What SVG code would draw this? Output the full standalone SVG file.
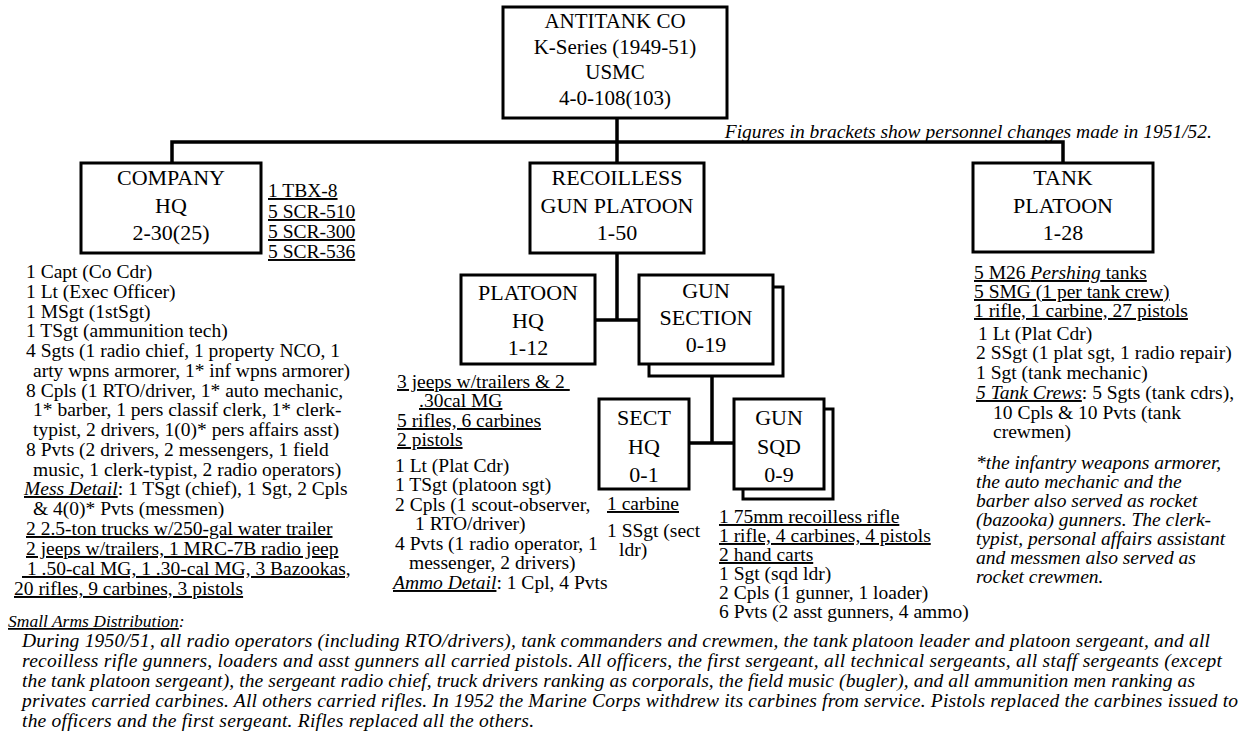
<svg xmlns="http://www.w3.org/2000/svg" width="1249" height="732" viewBox="0 0 1249 732" font-family="'Liberation Serif', 'Times New Roman', serif">
<style>
.box{fill:#fff;stroke:#000;stroke-width:3}
.ln{fill:none;stroke:#000;stroke-width:3.5;stroke-linecap:square}
text{font-family:"Liberation Serif","Times New Roman",serif;fill:#000}
.bt{font-size:22px;text-anchor:middle}
.tt{font-size:21px;text-anchor:middle}
.t{font-size:19.5px}
.p{font-size:19.5px;font-style:italic}
.u{text-decoration:underline}
.i{font-style:italic}
</style>
<rect width="1249" height="732" fill="#fff"/>
<g id="connectors">
<path class="ln" d="M617,118V142M172,142H1063M172,142V163M617,142V163M1063,142V163M617,253V320M595,320H639M712,376V443M689,443H734"/>
</g>
<g id="antitank-co">
<rect class="box" x="503" y="7" width="224" height="111"/>
<text class="tt" x="615" y="28">ANTITANK CO</text>
<text class="tt" x="615" y="53.5">K-Series (1949-51)</text>
<text class="tt" x="615" y="79">USMC</text>
<text class="tt" x="615" y="104.5">4-0-108(103)</text>
</g>
<text class="t i" x="1212" y="138" text-anchor="end">Figures in brackets show personnel changes made in 1951/52.</text>
<g id="company-hq">
<rect class="box" x="81" y="163" width="180" height="90"/>
<text class="bt" x="171" y="185">COMPANY</text>
<text class="bt" x="171" y="213">HQ</text>
<text class="bt" x="171" y="240">2-30(25)</text>
</g>
<g id="company-hq-radios" class="t u">
<text x="268" y="197">1 TBX-8</text>
<text x="268" y="218">5 SCR-510</text>
<text x="268" y="238">5 SCR-300</text>
<text x="268" y="258">5 SCR-536</text>
</g>
<g id="company-hq-list" class="t">
<text x="26" y="278">1 Capt (Co Cdr)</text>
<text x="26" y="298">1 Lt (Exec Officer)</text>
<text x="26" y="318">1 MSgt (1stSgt)</text>
<text x="26" y="337">1 TSgt (ammunition tech)</text>
<text x="26" y="357">4 Sgts (1 radio chief, 1 property NCO, 1</text>
<text x="33" y="377">arty wpns armorer, 1* inf wpns armorer)</text>
<text x="26" y="397">8 Cpls (1 RTO/driver, 1* auto mechanic,</text>
<text x="33" y="416">1* barber, 1 pers classif clerk, 1* clerk-</text>
<text x="33" y="436">typist, 2 drivers, 1(0)* pers affairs asst)</text>
<text x="26" y="456">8 Pvts (2 drivers, 2 messengers, 1 field</text>
<text x="33" y="476">music, 1 clerk-typist, 2 radio operators)</text>
<text x="24" y="495"><tspan class="i u">Mess Detail</tspan>: 1 TSgt (chief), 1 Sgt, 2 Cpls</text>
<text x="33" y="515">&amp; 4(0)* Pvts (messmen)</text>
<text class="u" x="26" y="535">2 2.5-ton trucks w/250-gal water trailer</text>
<text class="u" x="26" y="555">2 jeeps w/trailers, 1 MRC-7B radio jeep</text>
<text class="u" x="22" y="575" xml:space="preserve"> 1 .50-cal MG, 1 .30-cal MG, 3 Bazookas,</text>
<text class="u" x="14" y="595">20 rifles, 9 carbines, 3 pistols</text>
</g>
<g id="recoilless-gun-platoon">
<rect class="box" x="530" y="163" width="174" height="90"/>
<text class="bt" x="617" y="185">RECOILLESS</text>
<text class="bt" x="617" y="213">GUN PLATOON</text>
<text class="bt" x="617" y="240">1-50</text>
</g>
<g id="platoon-hq">
<rect class="box" x="461" y="275" width="134" height="89"/>
<text class="bt" x="528" y="300">PLATOON</text>
<text class="bt" x="528" y="328">HQ</text>
<text class="bt" x="528" y="355">1-12</text>
</g>
<g id="platoon-hq-list" class="t">
<text class="u" x="397" y="388" xml:space="preserve">3 jeeps w/trailers &amp; 2 </text>
<text class="u" x="419" y="407">.30cal MG</text>
<text class="u" x="397" y="427">5 rifles, 6 carbines</text>
<text class="u" x="397" y="446">2 pistols</text>
<text x="395" y="472">1 Lt (Plat Cdr)</text>
<text x="395" y="491">1 TSgt (platoon sgt)</text>
<text x="395" y="511">2 Cpls (1 scout-observer,</text>
<text x="415" y="530">1 RTO/driver)</text>
<text x="395" y="550">4 Pvts (1 radio operator, 1</text>
<text x="409" y="569">messenger, 2 drivers)</text>
<text x="393" y="589"><tspan class="i u">Ammo Detail</tspan>: 1 Cpl, 4 Pvts</text>
</g>
<g id="gun-section">
<rect class="box" x="649" y="287" width="134" height="89"/>
<rect class="box" x="639" y="275" width="134" height="89"/>
<text class="bt" x="706" y="298">GUN</text>
<text class="bt" x="706" y="325">SECTION</text>
<text class="bt" x="706" y="352">0-19</text>
</g>
<g id="sect-hq">
<rect class="box" x="599" y="399" width="90" height="90"/>
<text class="bt" x="644" y="425">SECT</text>
<text class="bt" x="644" y="454">HQ</text>
<text class="bt" x="644" y="482">0-1</text>
</g>
<g id="sect-hq-list" class="t">
<text class="u" x="607" y="510">1 carbine</text>
<text x="607" y="537">1 SSgt (sect</text>
<text x="619" y="556">ldr)</text>
</g>
<g id="gun-sqd">
<rect class="box" x="743" y="409" width="90" height="90"/>
<rect class="box" x="734" y="399" width="90" height="90"/>
<text class="bt" x="779" y="425">GUN</text>
<text class="bt" x="779" y="454">SQD</text>
<text class="bt" x="779" y="482">0-9</text>
</g>
<g id="gun-sqd-list" class="t">
<text class="u" x="719" y="523">1 75mm recoilless rifle</text>
<text class="u" x="719" y="542">1 rifle, 4 carbines, 4 pistols</text>
<text class="u" x="719" y="561">2 hand carts</text>
<text x="719" y="580">1 Sgt (sqd ldr)</text>
<text x="719" y="599">2 Cpls (1 gunner, 1 loader)</text>
<text x="719" y="618">6 Pvts (2 asst gunners, 4 ammo)</text>
</g>
<g id="tank-platoon">
<rect class="box" x="973" y="163" width="180" height="89"/>
<text class="bt" x="1063" y="185">TANK</text>
<text class="bt" x="1063" y="213">PLATOON</text>
<text class="bt" x="1063" y="240">1-28</text>
</g>
<g id="tank-platoon-list" class="t">
<text class="u" x="974" y="279">5 M26 <tspan class="i">Pershing</tspan> tanks</text>
<text class="u" x="974" y="298">5 SMG (1 per tank crew)</text>
<text class="u" x="974" y="317">1 rifle, 1 carbine, 27 pistols</text>
<text x="978" y="340">1 Lt (Plat Cdr)</text>
<text x="976" y="359">2 SSgt (1 plat sgt, 1 radio repair)</text>
<text x="976" y="379">1 Sgt (tank mechanic)</text>
<text x="976" y="399"><tspan class="i u">5 Tank Crews</tspan>: 5 Sgts (tank cdrs),</text>
<text x="993" y="419">10 Cpls &amp; 10 Pvts (tank</text>
<text x="993" y="438">crewmen)</text>
</g>
<g id="footnote" class="t i">
<text x="976" y="469">*the infantry weapons armorer,</text>
<text x="976" y="488">the auto mechanic and the</text>
<text x="976" y="507">barber also served as rocket</text>
<text x="976" y="526">(bazooka) gunners. The clerk-</text>
<text x="976" y="545">typist, personal affairs assistant</text>
<text x="976" y="564">and messmen also served as</text>
<text x="976" y="583">rocket crewmen.</text>
</g>
<g id="small-arms" class="p">
<text x="8" y="627" font-size="17.5"><tspan class="u">Small Arms Distribution</tspan>:</text>
<text x="22" y="647" textLength="1188" lengthAdjust="spacing">During 1950/51, all radio operators (including RTO/drivers), tank commanders and crewmen, the tank platoon leader and platoon sergeant, and all</text>
<text x="22" y="667" textLength="1200" lengthAdjust="spacing">recoilless rifle gunners, loaders and asst gunners all carried pistols. All officers, the first sergeant, all technical sergeants, all staff sergeants (except</text>
<text x="22" y="687" textLength="1173" lengthAdjust="spacing">the tank platoon sergeant), the sergeant radio chief, truck drivers ranking as corporals, the field music (bugler), and all ammunition men ranking as</text>
<text x="22" y="707" textLength="1216" lengthAdjust="spacing">privates carried carbines. All others carried rifles. In 1952 the Marine Corps withdrew its carbines from service. Pistols replaced the carbines issued to</text>
<text x="22" y="727" textLength="512" lengthAdjust="spacing">the officers and the first sergeant. Rifles replaced all the others.</text>
</g>
</svg>
